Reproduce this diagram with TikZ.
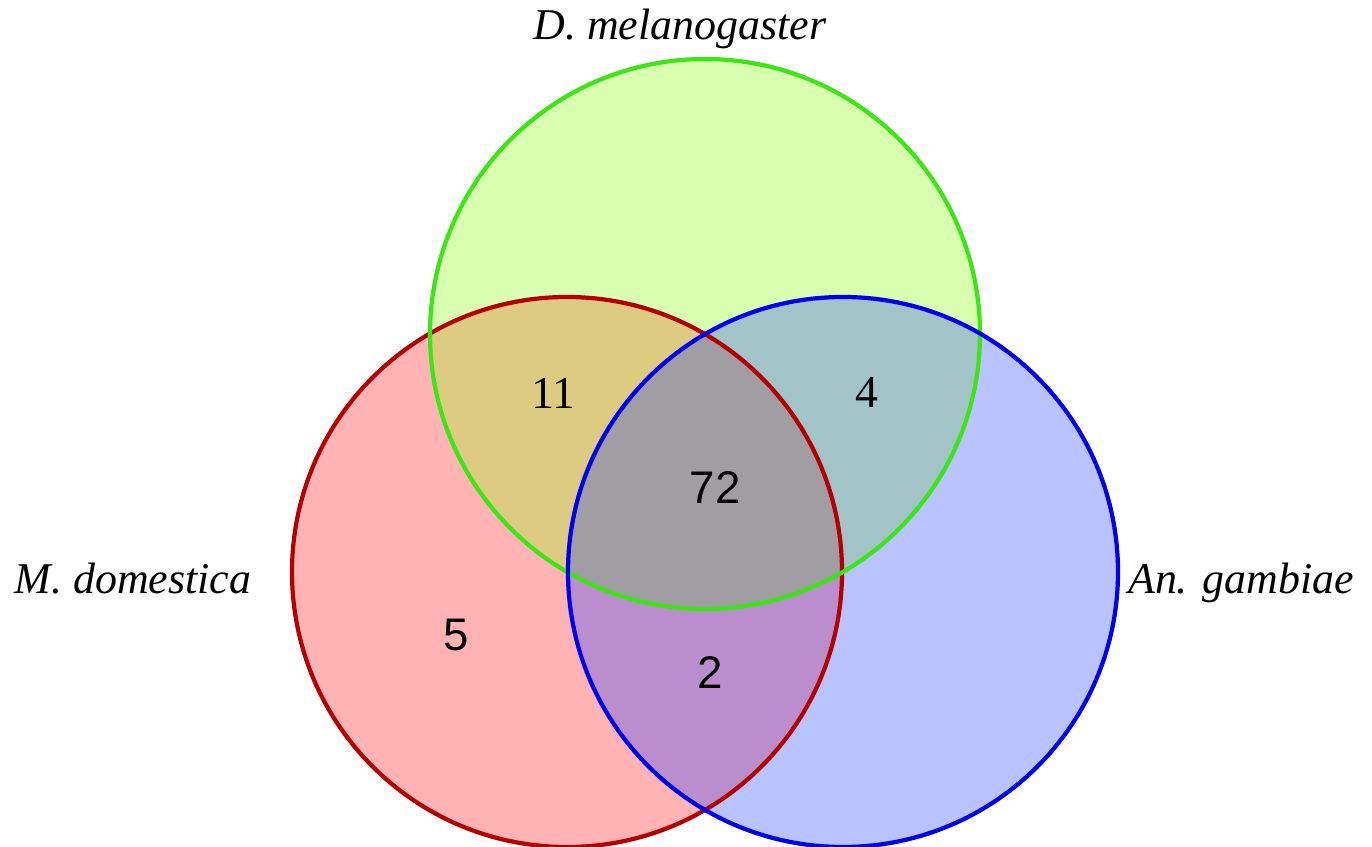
\documentclass[tikz,border=0pt]{standalone}
\usepackage{fontspec}
\setmainfont{Liberation Serif}
\setsansfont{Liberation Sans}
\definecolor{gfill}{RGB}{216,255,176}
\definecolor{rfill}{RGB}{255,179,179}
\definecolor{bfill}{RGB}{185,195,255}
\definecolor{rgfill}{RGB}{220,203,128}
\definecolor{gbfill}{RGB}{162,196,200}
\definecolor{rbfill}{RGB}{186,142,204}
\definecolor{allfill}{RGB}{160,157,163}
\definecolor{gline}{RGB}{60,230,20}
\definecolor{rline}{RGB}{180,0,0}
\definecolor{bline}{RGB}{0,0,235}
\begin{document}
\begin{tikzpicture}[x=0.02cm,y=-0.02cm,
  lab/.style={font=\fontsize{25}{30}\selectfont\rmfamily\itshape,anchor=base},
  num/.style={font=\fontsize{26}{30}\selectfont\rmfamily,anchor=base},
  snum/.style={font=\fontsize{26}{30}\selectfont\sffamily,anchor=base}]
\useasboundingbox (0,0) rectangle (1372,847);
\def\R{275}
\def\green{(705,334) circle (\R)}
\def\red{(567,572) circle (\R)}
\def\blue{(843,572) circle (\R)}

% single sets
\fill [gfill] \green;
\fill [rfill] \red;
\fill [bfill] \blue;

% pairwise overlaps
\begin{scope}
\clip \red;
\fill [rgfill] \green;
\end{scope}
\begin{scope}
\clip \green;
\fill [gbfill] \blue;
\end{scope}
\begin{scope}
\clip \red;
\fill [rbfill] \blue;
\end{scope}
% triple overlap
\begin{scope}
\clip \red;
\clip \green;
\fill [allfill] \blue;
\end{scope}

% outlines
\draw [line width=2.4pt, rline] \red;
\draw [line width=2.4pt, gline] \green;
\draw [line width=2.4pt, bline] \blue;

% names
\node [lab] (dmel) at (680,40) {D. melanogaster};
\node [lab] (mdom) at (133,593) {M. domestica};
\node [lab] (agam) at (1241,593) {An. gambiae};

% counts
\node [num] (n11) at (553,409) {11};
\node [num] (n4) at (867,408) {4};
\node [snum] (n72) at (715,503) {72};
\node [snum] (n5) at (456,650) {5};
\node [snum] (n2) at (710,688) {2};
\end{tikzpicture}
\end{document}
